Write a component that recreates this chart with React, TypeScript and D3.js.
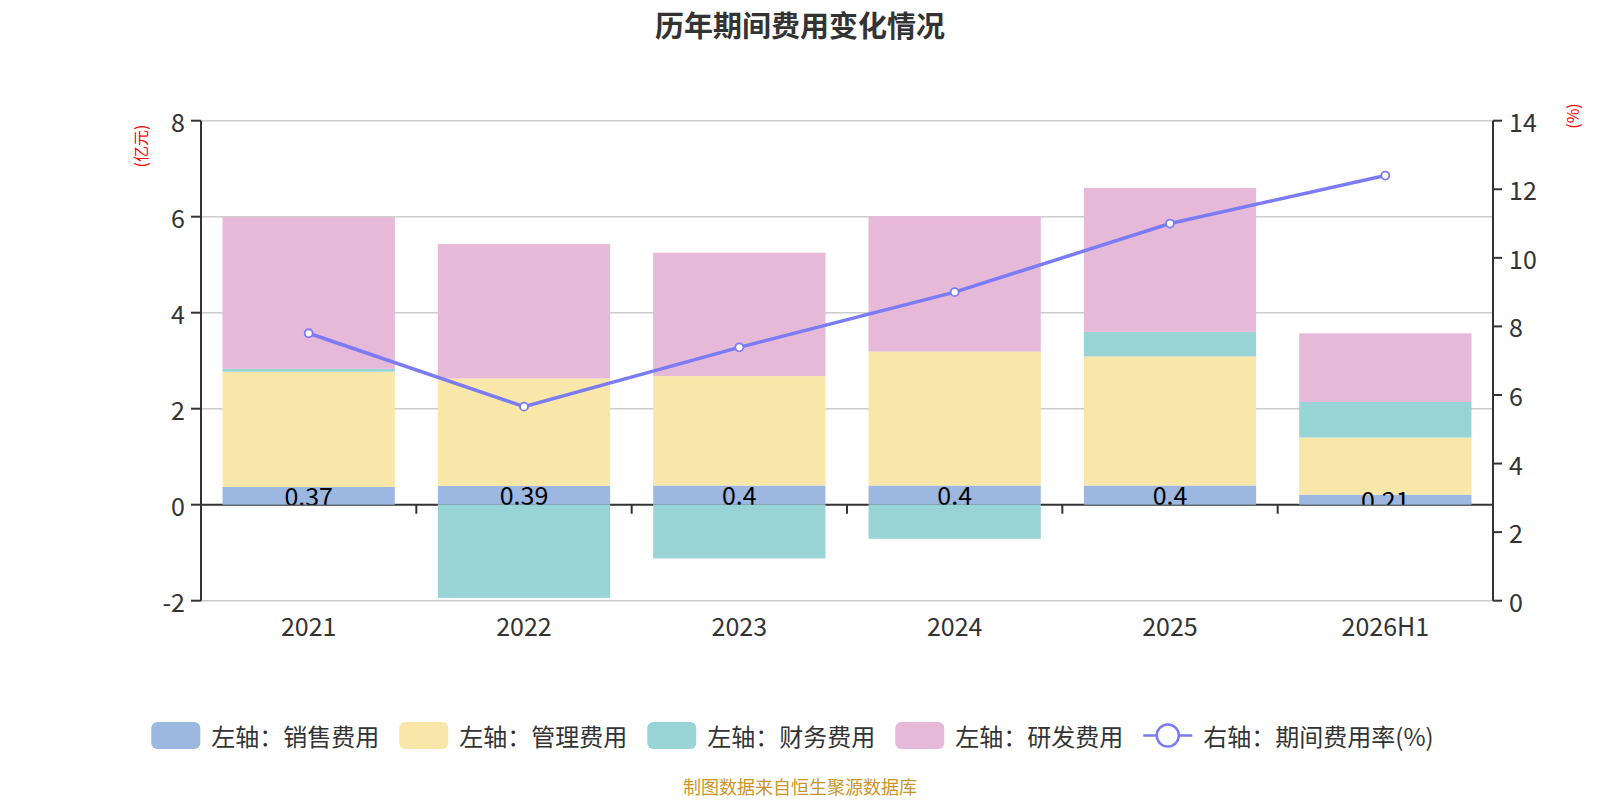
import * as d3 from "d3"

const CATEGORIES = ["2021", "2022", "2023", "2024", "2025", "2026H1"]
const SALES = [0.37, 0.39, 0.4, 0.4, 0.4, 0.21]
const ADMIN = [2.4, 2.24, 2.28, 2.79, 2.69, 1.19]
const FINANCE = [0.06, -1.94, -1.12, -0.71, 0.51, 0.74]
const RND = [3.16, 2.8, 2.57, 2.82, 3.0, 1.43]
const RATE = [7.8, 5.66, 7.39, 9.0, 11.0, 12.4]
const LEFT_TICKS = [-2, 0, 2, 4, 6, 8]
const RIGHT_TICKS = [0, 2, 4, 6, 8, 10, 12, 14]

const SERIES = [
  { key: "sales", name: "左轴：销售费用", color: "#9cb8e1", values: SALES },
  { key: "admin", name: "左轴：管理费用", color: "#f8e7a9", values: ADMIN },
  { key: "finance", name: "左轴：财务费用", color: "#98d4d5", values: FINANCE },
  { key: "rnd", name: "左轴：研发费用", color: "#e7b9d8", values: RND },
]
const LINE_NAME = "右轴：期间费用率(%)"
const LINE_COLOR = "#7b7bf5"

const WIDTH = 1600
const HEIGHT = 800
const PLOT = { left: 201, right: 1493, top: 120.7, bottom: 600.7 }
const FONT = "'Noto Sans CJK SC', 'Noto Sans', sans-serif"
const AXIS_COLOR = "#333"
const AXIS_FONT = 25

export default function App() {
  const x = d3.scaleBand<string>().domain(CATEGORIES).range([PLOT.left, PLOT.right])
  const yLeft = d3.scaleLinear().domain([-2, 8]).range([PLOT.bottom, PLOT.top])
  const yRight = d3.scaleLinear().domain([0, 14]).range([PLOT.bottom, PLOT.top])
  const barWidth = x.bandwidth() * 0.8
  const barOffset = x.bandwidth() * 0.1
  const zeroY = yLeft(0)

  const rows = CATEGORIES.map((c, i) => {
    const row: Record<string, number | string> = { category: c }
    SERIES.forEach((s) => (row[s.key] = s.values[i]))
    return row
  })
  const stacked = d3
    .stack<Record<string, number | string>>()
    .keys(SERIES.map((s) => s.key))
    .offset(d3.stackOffsetDiverging)(rows)

  const line = d3
    .line<number>()
    .x((_, i) => x(CATEGORIES[i])! + x.bandwidth() / 2)
    .y((d) => yRight(d))

  // legend layout
  const swatchW = 49
  const itemGap = 20
  const textGap = 11
  const charW = 24
  const textWidth = (t: string) =>
    Array.from(t).reduce((w, ch) => w + (/[\x00-\x7f]/.test(ch) ? charW * 0.52 : charW), 0)
  const legendItems = [
    ...SERIES.map((s) => ({ name: s.name, color: s.color, kind: "rect" })),
    { name: LINE_NAME, color: LINE_COLOR, kind: "line" },
  ]
  const legendTotal = legendItems.reduce(
    (w, it, i) => w + swatchW + textGap + textWidth(it.name) + (i < legendItems.length - 1 ? itemGap : 0),
    0
  )
  let cursor = 792 - legendTotal / 2
  const legendPos = legendItems.map((it) => {
    const start = cursor
    cursor += swatchW + textGap + textWidth(it.name) + itemGap
    return start
  })
  const legendY = 735.5

  return (
    <svg
      width={WIDTH}
      height={HEIGHT}
      style={{ position: "absolute", left: 0, top: 0, background: "#fff" }}
      fontFamily={FONT}
    >
      <defs>
        <clipPath id="labelClip">
          <rect x={PLOT.left} y={0} width={PLOT.right - PLOT.left} height={zeroY} />
        </clipPath>
      </defs>

      <text x={800} y={24} textAnchor="middle" dominantBaseline="central" fontSize={29} fontWeight="bold" fill="#333">
        历年期间费用变化情况
      </text>

      {/* gridlines */}
      {LEFT_TICKS.filter((t) => t !== 0).map((t) => (
        <line key={t} x1={PLOT.left} x2={PLOT.right} y1={yLeft(t)} y2={yLeft(t)} stroke="#ccc" strokeWidth={1.5} />
      ))}

      {/* x axis line at zero + ticks */}
      <line x1={PLOT.left} x2={PLOT.right} y1={zeroY} y2={zeroY} stroke={AXIS_COLOR} strokeWidth={2} />
      {CATEGORIES.map((c) => (
        <line key={c} x1={x(c)!} x2={x(c)!} y1={zeroY} y2={zeroY + 9} stroke={AXIS_COLOR} strokeWidth={2} />
      ))}
      <line x1={PLOT.right} x2={PLOT.right} y1={zeroY} y2={zeroY + 9} stroke={AXIS_COLOR} strokeWidth={2} />
      {CATEGORIES.map((c) => (
        <text
          key={c}
          x={x(c)! + x.bandwidth() / 2}
          y={625}
          textAnchor="middle"
          dominantBaseline="central"
          fontSize={AXIS_FONT}
          fill={AXIS_COLOR}
        >
          {c}
        </text>
      ))}

      {/* left axis */}
      <line x1={PLOT.left} x2={PLOT.left} y1={PLOT.top} y2={PLOT.bottom} stroke={AXIS_COLOR} strokeWidth={2} />
      {LEFT_TICKS.map((t) => (
        <g key={t}>
          <line x1={PLOT.left - 10} x2={PLOT.left} y1={yLeft(t)} y2={yLeft(t)} stroke={AXIS_COLOR} strokeWidth={2} />
          <text
            x={PLOT.left - 16}
            y={yLeft(t)}
            textAnchor="end"
            dominantBaseline="central"
            fontSize={AXIS_FONT}
            fill={AXIS_COLOR}
          >
            {t}
          </text>
        </g>
      ))}
      <text
        transform={`translate(139.5,146) rotate(-90)`}
        textAnchor="middle"
        dominantBaseline="central"
        fontSize={16}
        fill="#ff0000"
      >
        (亿元)
      </text>

      {/* right axis */}
      <line x1={PLOT.right} x2={PLOT.right} y1={PLOT.top} y2={PLOT.bottom} stroke={AXIS_COLOR} strokeWidth={2} />
      {RIGHT_TICKS.map((t) => (
        <g key={t}>
          <line x1={PLOT.right} x2={PLOT.right + 9} y1={yRight(t)} y2={yRight(t)} stroke={AXIS_COLOR} strokeWidth={2} />
          <text
            x={PLOT.right + 16}
            y={yRight(t)}
            textAnchor="start"
            dominantBaseline="central"
            fontSize={AXIS_FONT}
            fill={AXIS_COLOR}
          >
            {t}
          </text>
        </g>
      ))}
      <text
        transform={`translate(1571.5,116) rotate(-90)`}
        textAnchor="middle"
        dominantBaseline="central"
        fontSize={16}
        fill="#ff0000"
      >
        (%)
      </text>

      {/* stacked bars */}
      {stacked.map((layer, si) => (
        <g key={layer.key} fill={SERIES[si].color}>
          {layer.map((d, i) => {
            const y0 = yLeft(d[0])
            const y1 = yLeft(d[1])
            return (
              <rect
                key={CATEGORIES[i]}
                x={x(CATEGORIES[i])! + barOffset}
                y={Math.min(y0, y1)}
                width={barWidth}
                height={Math.abs(y0 - y1)}
              />
            )
          })}
        </g>
      ))}

      {/* sales labels */}
      <g clipPath="url(#labelClip)">
        {SALES.map((v, i) => (
          <text
            key={CATEGORIES[i]}
            x={x(CATEGORIES[i])! + x.bandwidth() / 2}
            y={(yLeft(0) + yLeft(v)) / 2 - 1}
            textAnchor="middle"
            dominantBaseline="central"
            fontSize={25}
            fill="#000"
          >
            {v}
          </text>
        ))}
      </g>

      {/* rate line */}
      <path d={line(RATE) ?? ""} fill="none" stroke={LINE_COLOR} strokeWidth={3.5} />
      {RATE.map((v, i) => (
        <circle
          key={CATEGORIES[i]}
          cx={x(CATEGORIES[i])! + x.bandwidth() / 2}
          cy={yRight(v)}
          r={4}
          fill="#fff"
          stroke={LINE_COLOR}
          strokeWidth={1.8}
        />
      ))}

      {/* legend */}
      {legendItems.map((it, i) => {
        const x0 = legendPos[i]
        return (
          <g key={it.name}>
            {it.kind === "rect" ? (
              <rect x={x0} y={legendY - 13.5} width={swatchW} height={27} rx={6} fill={it.color} />
            ) : (
              <g>
                <line x1={x0} x2={x0 + swatchW} y1={legendY} y2={legendY} stroke={it.color} strokeWidth={2.5} />
                <circle cx={x0 + swatchW / 2} cy={legendY} r={11} fill="#fff" stroke={it.color} strokeWidth={2.5} />
              </g>
            )}
            <text
              x={x0 + swatchW + textGap}
              y={legendY}
              dominantBaseline="central"
              fontSize={24}
              fill="#333"
            >
              {it.name}
            </text>
          </g>
        )
      })}

      <text x={800} y={786} textAnchor="middle" dominantBaseline="central" fontSize={18} fill="#c9952b">
        制图数据来自恒生聚源数据库
      </text>
    </svg>
  )
}
